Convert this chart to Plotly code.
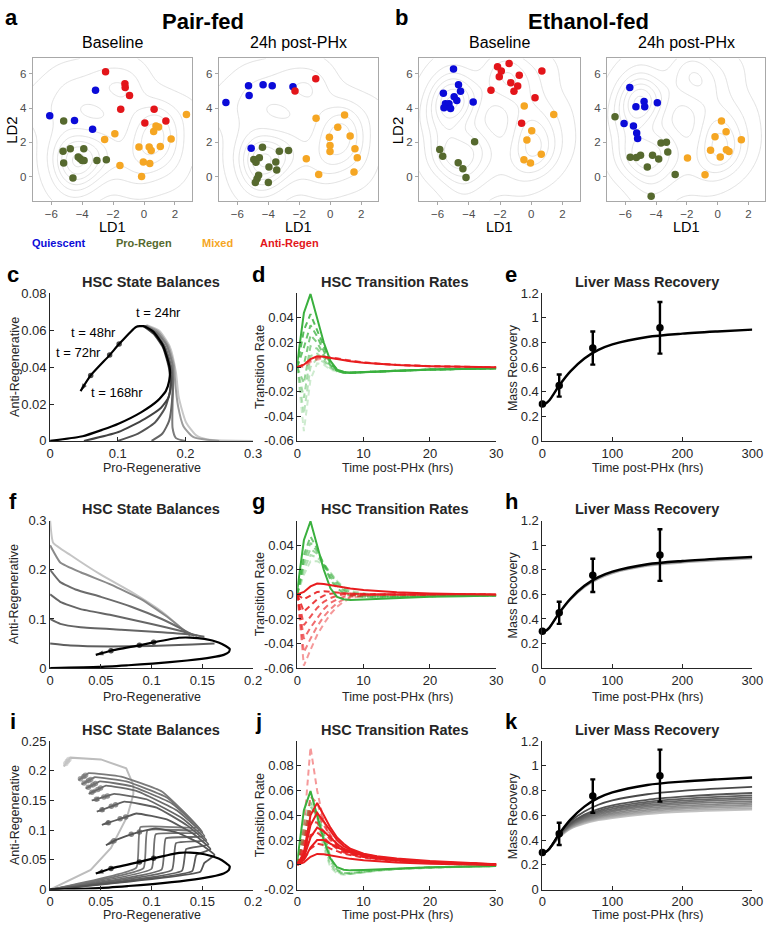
import numpy as np
import plotly.graph_objects as go

W, H = 778, 932

# ======================= a / b : LDA scatter (LD1, LD2) =======================
PF0_Q_X = [-6.1, -3.14, -4.5, -3.33]
PF0_Q_Y = [3.56, 5.04, 3.27, 2.77]
PF0_P_X = [-5.2, -5.24, -4.77, -3.9, -4.26, -4.13, -4.0, -3.88, -5.2, -3.05, -2.44, -4.6]
PF0_P_Y = [3.25, 1.48, 1.62, 1.63, 1.15, 1.04, 0.94, 0.94, 0.79, 0.94, 0.98, -0.08]
PF0_M_X = [2.74, -1.89, -2.55, 1.75, 0.62, 0.77, 0.94, -0.33, 0.33, 0.46, 1.05, -0.05, 0.37, -1.56, -0.16]
PF0_M_Y = [3.62, 2.5, 2.17, 2.19, 2.63, 2.96, 2.9, 1.73, 1.73, 1.52, 1.75, 0.85, 0.77, 0.65, 0.0]
PF0_A_X = [-2.49, -1.24, -1.22, -0.94, -1.51, 0.65, 0.05, 1.41]
PF0_A_Y = [6.13, 5.42, 5.21, 4.73, 3.94, 3.94, 3.13, 3.25]

PF24_Q_X = [-6.74, -5.28, -5.24, -4.34, -3.75, -2.41, -5.11]
PF24_Q_Y = [4.33, 5.31, 4.73, 5.37, 5.31, 5.25, 1.65]
PF24_P_X = [-4.38, -4.94, -4.58, -4.8, -3.52, -3.29, -2.7, -3.96, -3.46, -4.63, -4.73, -4.84, -4.0]
PF24_P_Y = [1.71, 1.0, 1.1, 0.83, 0.85, 1.48, 1.52, 0.56, 0.38, 0.08, -0.13, -0.35, -0.35]
PF24_M_X = [-0.92, 0.92, 0.48, -0.06, -0.02, -0.02, 1.28, 1.59, 1.74, 1.53, -1.55, -0.75]
PF24_M_Y = [3.4, 3.6, 2.88, 2.29, 1.81, 1.46, 2.37, 1.62, 1.1, 0.27, 1.04, 0.12]
PF24_A_X = [-0.94, -2.28]
PF24_A_Y = [5.71, 5.0]

EF0_Q_X = [-4.98, -4.66, -4.53, -5.63, -4.94, -4.77, -5.5, -5.27, -5.59, -5.17, -3.72]
EF0_Q_Y = [6.29, 5.37, 4.98, 4.87, 4.67, 4.44, 4.25, 4.25, 4.02, 3.98, 4.35]
EF0_P_X = [-5.86, -5.67, -3.63, -4.68, -4.38, -4.18]
EF0_P_Y = [1.58, 1.19, 2.04, 0.81, 0.46, -0.06]
EF0_M_X = [-0.45, 1.44, 0.03, -0.28, 0.64, -0.47, -0.05]
EF0_M_Y = [4.12, 3.62, 2.67, 2.13, 1.31, 0.98, 0.79]
EF0_A_X = [-2.16, -1.42, -1.92, -2.05, -0.77, -1.31, -0.87, -1.11, -2.58, 0.68, 0.24, -0.62]
EF0_A_Y = [6.42, 6.6, 6.17, 5.83, 5.92, 5.48, 5.29, 4.98, 5.04, 6.17, 4.6, 3.12]

EF24_Q_X = [-5.71, -4.78, -5.31, -4.74, -3.92, -6.08, -5.47, -5.26, -5.2]
EF24_Q_Y = [5.21, 4.38, 4.08, 4.08, 4.31, 3.1, 2.96, 2.54, 2.23]
EF24_P_X = [-6.67, -5.68, -5.28, -5.01, -4.23, -4.57, -3.83, -3.68, -3.33, -3.24, -2.76, -4.32]
EF24_P_Y = [3.5, 1.13, 1.12, 1.25, 1.25, 0.56, 1.02, 1.96, 2.0, 1.44, 0.12, -1.15]
EF24_M_X = [0.25, -0.17, 0.55, 1.54, -0.46, 0.57, 0.74, 0.17, -1.96, -0.82]
EF24_M_Y = [3.25, 2.33, 2.62, 2.15, 1.54, 1.56, 1.46, 1.15, 1.08, 0.1]
EF24_A_X = []
EF24_A_Y = []

STATE_NAMES = ["Quiescent", "Pro-Regen", "Mixed", "Anti-Regen"]
LD_TICKS_X = [-6, -4, -2, 0, 2]
LD_TICKS_Y = [0, 2, 4, 6]

# ======================= c / f / i : HSC state balances =======================
# baseline (black) trajectory; last 5 points: t=24,48,72,168 markers and end arrow
BAL_BLACK_X = [0, 0.048, 0.077, 0.101, 0.135, 0.159, 0.171, 0.176, 0.177, 0.173, 0.166, 0.152, 0.138,
               0.127, 0.102, 0.088, 0.060, 0.045]
BAL_BLACK_Y = [0, 0.0025, 0.006, 0.0093, 0.0156, 0.0218, 0.027, 0.0326, 0.0388, 0.045, 0.0523, 0.0594, 0.0622,
               0.0618, 0.0525, 0.0465, 0.0355, 0.027]

# panel c: initial pro-regenerative fractions 0.05 ... 0.3
C_G1_X = [0.05, 0.101, 0.14, 0.164, 0.175, 0.178, 0.176, 0.167, 0.153, 0.138]
C_G1_Y = [0, 0.0048, 0.012, 0.018, 0.0236, 0.031, 0.039, 0.0505, 0.058, 0.0622]
C_G2_X = [0.1, 0.13, 0.155, 0.17, 0.178, 0.179, 0.177, 0.168, 0.154, 0.139]
C_G2_Y = [0, 0.004, 0.01, 0.018, 0.028, 0.034, 0.04, 0.051, 0.0585, 0.0622]
C_G3_X = [0.15, 0.166, 0.176, 0.18, 0.181, 0.179, 0.17, 0.155, 0.14]
C_G3_Y = [0, 0.004, 0.011, 0.021, 0.032, 0.04, 0.051, 0.0588, 0.0624]
C_G4_X = [0.2, 0.186, 0.181, 0.181, 0.182, 0.181, 0.172, 0.157, 0.141]
C_G4_Y = [0, 0.0015, 0.007, 0.02, 0.033, 0.041, 0.052, 0.059, 0.0625]
C_G5_X = [0.25, 0.212, 0.197, 0.189, 0.185, 0.183, 0.174, 0.159, 0.142]
C_G5_Y = [0, 0.002, 0.008, 0.019, 0.031, 0.041, 0.052, 0.0595, 0.0626]
C_G6_X = [0.3, 0.232, 0.216, 0.201, 0.19, 0.186, 0.177, 0.161, 0.143]
C_G6_Y = [0, 0.0008, 0.003, 0.01, 0.024, 0.037, 0.051, 0.0598, 0.0627]

# panel f: initial anti-regenerative fractions 0.05 ... 0.3
F_G1_X = [0, 0.02, 0.06, 0.1, 0.14, 0.162]
F_G1_Y = [0.05, 0.046, 0.044, 0.045, 0.048, 0.05]
F_G2_X = [0, 0.01, 0.03, 0.07, 0.11, 0.14, 0.152]
F_G2_Y = [0.1, 0.09, 0.083, 0.078, 0.073, 0.068, 0.064]
F_G3_X = [0, 0.01, 0.03, 0.06, 0.1, 0.13, 0.145]
F_G3_Y = [0.15, 0.135, 0.12, 0.108, 0.09, 0.075, 0.066]
F_G4_X = [0, 0.01, 0.025, 0.05, 0.08, 0.11, 0.135, 0.142]
F_G4_Y = [0.2, 0.175, 0.16, 0.145, 0.125, 0.1, 0.074, 0.066]
F_G5_X = [0, 0.01, 0.03, 0.06, 0.09, 0.115, 0.133, 0.138]
F_G5_Y = [0.25, 0.215, 0.195, 0.17, 0.14, 0.105, 0.075, 0.066]
F_G6_X = [0, 0.003, 0.02, 0.05, 0.08, 0.11, 0.13, 0.135]
F_G6_Y = [0.3, 0.255, 0.23, 0.19, 0.155, 0.115, 0.08, 0.068]

# panel i: ethanol-perturbed trajectories; last 5 points are markers + arrow
I_LIGHT_X = [0, 0.04, 0.06, 0.076, 0.082, 0.082, 0.075, 0.05, 0.02, 0.0185, 0.017, 0.0155, 0.0135]
I_LIGHT_Y = [0, 0.033, 0.07, 0.123, 0.16, 0.176, 0.204, 0.219, 0.222, 0.219, 0.216, 0.212, 0.207]
I_S1_X = [0, 0.148, 0.152, 0.162, 0.145, 0.125, 0.104, 0.088, 0.08, 0.063, 0.055]
I_S1_Y = [0, 0.03, 0.045, 0.058, 0.08, 0.096, 0.103, 0.097, 0.093, 0.082, 0.0745]
I_S2_X = [0, 0.14, 0.144, 0.158, 0.14, 0.115, 0.085, 0.0745, 0.069, 0.0575, 0.051]
I_S2_Y = [0, 0.031, 0.058, 0.068, 0.095, 0.118, 0.128, 0.122, 0.119, 0.1126, 0.109]
I_S3_X = [0, 0.13, 0.134, 0.156, 0.135, 0.105, 0.073, 0.0645, 0.0603, 0.0512, 0.046]
I_S3_Y = [0, 0.032, 0.068, 0.076, 0.108, 0.138, 0.148, 0.1427, 0.14, 0.1343, 0.131]
I_S4_X = [0, 0.12, 0.124, 0.154, 0.13, 0.095, 0.063, 0.0565, 0.053, 0.0457, 0.041]
I_S4_Y = [0, 0.033, 0.078, 0.083, 0.12, 0.152, 0.161, 0.1576, 0.1558, 0.1519, 0.15]
I_S5_X = [0, 0.11, 0.114, 0.152, 0.125, 0.085, 0.055, 0.0497, 0.047, 0.0412, 0.038]
I_S5_Y = [0, 0.034, 0.086, 0.09, 0.133, 0.166, 0.175, 0.1707, 0.1684, 0.1637, 0.161]
I_S6_X = [0, 0.1, 0.104, 0.15, 0.12, 0.08, 0.049, 0.0447, 0.0424, 0.0377, 0.035]
I_S6_Y = [0, 0.035, 0.093, 0.096, 0.145, 0.174, 0.182, 0.1783, 0.1764, 0.1723, 0.17]
I_S7_X = [0, 0.092, 0.096, 0.148, 0.115, 0.075, 0.044, 0.04, 0.0379, 0.0335, 0.031]
I_S7_Y = [0, 0.036, 0.1, 0.1, 0.155, 0.182, 0.189, 0.1853, 0.1834, 0.1793, 0.177]
I_S8_X = [0, 0.085, 0.089, 0.145, 0.11, 0.07, 0.038, 0.0349, 0.0333, 0.0299, 0.028]
I_S8_Y = [0, 0.037, 0.105, 0.105, 0.165, 0.19, 0.196, 0.1923, 0.1904, 0.1863, 0.184]

# ======================= d / g / j : HSC transition rates =======================
T_HRS = [0, 1, 2, 3, 4, 5, 6, 7, 8, 10, 12, 15, 20, 25, 30]
GREEN_SOLID = [0.003, 0.044, 0.0595, 0.04, 0.02, 0.005, -0.002, -0.004, -0.0045, -0.0042, -0.0037, -0.003, -0.002, -0.0015, -0.001]
RED_SOLID = [0.0, 0.002, 0.0065, 0.0088, 0.0085, 0.0075, 0.0065, 0.0056, 0.0048, 0.0036, 0.0027, 0.0018, 0.0008, 0.0002, -0.0002]

D_GD1 = [0.0, 0.03, 0.043, 0.03, 0.016, 0.004, -0.002, -0.004, -0.0045, -0.0042, -0.0037, -0.003, -0.002, -0.0015, -0.001]
D_GD2 = [0.0, 0.016, 0.034, 0.025, 0.013, 0.003, -0.003, -0.0045, -0.0045, -0.0042, -0.0037, -0.003, -0.002, -0.0015, -0.001]
D_GD3 = [0.0, 0.002, 0.026, 0.02, 0.01, 0.002, -0.003, -0.0045, -0.0045, -0.0042, -0.0037, -0.003, -0.002, -0.0015, -0.001]
D_GD4 = [0.0, -0.013, 0.017, 0.015, 0.008, 0.001, -0.003, -0.0045, -0.0045, -0.0042, -0.0037, -0.003, -0.002, -0.0015, -0.001]
D_GD5 = [0.0, -0.025, 0.009, 0.011, 0.006, 0.0, -0.003, -0.0045, -0.0045, -0.0042, -0.0037, -0.003, -0.002, -0.0015, -0.001]
D_GD6 = [0.0, -0.038, 0.0, 0.007, 0.004, -0.001, -0.003, -0.0045, -0.0045, -0.0042, -0.0037, -0.003, -0.002, -0.0015, -0.001]
D_GD7 = [0.0, -0.052, -0.01, 0.003, 0.002, -0.002, -0.0035, -0.0045, -0.0045, -0.0042, -0.0037, -0.003, -0.002, -0.0015, -0.001]
D_RD1 = [0.0, 0.002, 0.006, 0.008, 0.0085, 0.008, 0.007, 0.006, 0.005, 0.0037, 0.0028, 0.0018, 0.0008, 0.0002, -0.0002]
D_RD2 = [0.0, 0.001, 0.005, 0.007, 0.008, 0.0078, 0.0072, 0.0062, 0.0052, 0.0038, 0.0028, 0.0018, 0.0008, 0.0002, -0.0002]
D_RD3 = [0.0, 0.0, 0.004, 0.006, 0.0072, 0.0074, 0.007, 0.0062, 0.0053, 0.0039, 0.0029, 0.0019, 0.0008, 0.0002, -0.0002]

G_GD1 = [0.0, 0.032, 0.047, 0.037, 0.024, 0.012, 0.005, 0.001, -0.001, -0.002, -0.002, -0.002, -0.0015, -0.001, -0.001]
G_GD2 = [0.0, 0.028, 0.042, 0.035, 0.025, 0.014, 0.007, 0.003, 0.0, -0.002, -0.002, -0.002, -0.0015, -0.001, -0.001]
G_GD3 = [0.0, 0.024, 0.037, 0.033, 0.025, 0.016, 0.009, 0.004, 0.001, -0.001, -0.002, -0.002, -0.0015, -0.001, -0.001]
G_GD4 = [0.0, 0.02, 0.032, 0.03, 0.025, 0.017, 0.01, 0.005, 0.002, 0.0, -0.001, -0.0015, -0.0015, -0.001, -0.001]
G_GD5 = [0.0, 0.016, 0.027, 0.027, 0.024, 0.018, 0.011, 0.006, 0.003, 0.001, -0.001, -0.0015, -0.0015, -0.001, -0.001]
G_RD1 = [0.0, -0.004, -0.001, 0.002, 0.0025, 0.002, 0.0015, 0.001, 0.0005, 0.0002, 0.0, 0.0, 0.0, 0.0, -0.0002]
G_RD2 = [0.0, -0.014, -0.009, -0.004, -0.001, 0.0005, 0.001, 0.0008, 0.0005, 0.0002, 0.0, 0.0, 0.0, 0.0, -0.0002]
G_RD3 = [0.0, -0.025, -0.018, -0.011, -0.006, -0.003, -0.001, 0.0, 0.0, 0.0, 0.0, 0.0, 0.0, 0.0, -0.0002]
G_RD4 = [0.0, -0.036, -0.027, -0.019, -0.012, -0.007, -0.004, -0.002, -0.001, 0.0, 0.0, 0.0, 0.0, 0.0, -0.0002]
G_RD5 = [0.0, -0.047, -0.036, -0.026, -0.018, -0.012, -0.007, -0.004, -0.002, -0.001, 0.0, 0.0, 0.0, 0.0, -0.0002]
G_RD6 = [0.0, -0.058, -0.045, -0.033, -0.024, -0.016, -0.01, -0.006, -0.003, -0.001, -0.0005, 0.0, 0.0, 0.0, -0.0002]

J_RS1 = [0.0, 0.01, 0.04, 0.05, 0.04, 0.03, 0.022, 0.017, 0.013, 0.009, 0.007, 0.005, 0.003, 0.0015, 0.0005]
J_RS2 = [0.0, 0.008, 0.032, 0.042, 0.035, 0.027, 0.02, 0.015, 0.012, 0.0085, 0.0065, 0.0045, 0.0025, 0.0012, 0.0004]
J_RS3 = [0.0, 0.006, 0.022, 0.03, 0.027, 0.022, 0.017, 0.013, 0.011, 0.008, 0.006, 0.0042, 0.0023, 0.0011, 0.0003]
J_RS4 = [0.0, 0.004, 0.014, 0.02, 0.02, 0.017, 0.014, 0.012, 0.01, 0.0075, 0.0057, 0.004, 0.0022, 0.001, 0.0003]
J_RD1 = [0.0, 0.03, 0.095, 0.06, 0.035, 0.022, 0.015, 0.011, 0.009, 0.0065, 0.005, 0.0035, 0.002, 0.001, 0.0003]
J_RD2 = [0.0, 0.02, 0.055, 0.05, 0.035, 0.024, 0.017, 0.013, 0.01, 0.007, 0.0055, 0.0038, 0.0021, 0.001, 0.0003]
J_RD3 = [0.0, 0.015, 0.045, 0.042, 0.032, 0.023, 0.016, 0.012, 0.0095, 0.0068, 0.0052, 0.0036, 0.002, 0.001, 0.0003]
J_RD4 = [0.0, 0.012, 0.035, 0.034, 0.027, 0.02, 0.015, 0.011, 0.009, 0.0065, 0.005, 0.0035, 0.002, 0.001, 0.0003]
J_RD5 = [0.0, 0.008, 0.024, 0.026, 0.022, 0.017, 0.013, 0.01, 0.0085, 0.0062, 0.0048, 0.0034, 0.0019, 0.001, 0.0003]
J_RD6 = [0.0, 0.004, 0.013, 0.017, 0.016, 0.013, 0.011, 0.009, 0.0078, 0.0058, 0.0045, 0.0032, 0.0018, 0.0009, 0.0003]
J_GD1 = [0.0, 0.035, 0.053, 0.035, 0.014, -0.002, -0.007, -0.008, -0.0075, -0.006, -0.0048, -0.0035, -0.0022, -0.0015, -0.001]
J_GD2 = [0.0, 0.03, 0.05, 0.038, 0.018, 0.0, -0.006, -0.0075, -0.0072, -0.0058, -0.0046, -0.0034, -0.0021, -0.0014, -0.001]
J_GD3 = [0.0, 0.025, 0.047, 0.04, 0.022, 0.003, -0.005, -0.007, -0.007, -0.0056, -0.0045, -0.0033, -0.0021, -0.0014, -0.001]
J_GD4 = [0.0, 0.02, 0.043, 0.042, 0.026, 0.006, -0.004, -0.0065, -0.0068, -0.0055, -0.0044, -0.0033, -0.002, -0.0014, -0.001]

# ======================= e / h / k : liver mass recovery =======================
M_T = [0, 5, 10, 24, 40, 60, 80, 100, 150, 200, 250, 300]
MASS_BLACK = [0.3, 0.305, 0.33, 0.45, 0.565, 0.67, 0.74, 0.785, 0.845, 0.872, 0.89, 0.905]
H_G1 = [0.3, 0.305, 0.33, 0.447, 0.56, 0.664, 0.733, 0.778, 0.838, 0.865, 0.884, 0.899]
H_G2 = [0.3, 0.305, 0.33, 0.444, 0.555, 0.658, 0.726, 0.771, 0.831, 0.858, 0.877, 0.892]
K_G1 = [0.3, 0.305, 0.33, 0.45, 0.55, 0.63, 0.685, 0.72, 0.77, 0.797, 0.815, 0.83]
K_G2 = [0.3, 0.305, 0.33, 0.445, 0.535, 0.605, 0.65, 0.68, 0.725, 0.75, 0.768, 0.78]
K_G3 = [0.3, 0.305, 0.33, 0.44, 0.53, 0.595, 0.635, 0.665, 0.708, 0.732, 0.748, 0.76]
K_G4 = [0.3, 0.305, 0.33, 0.44, 0.525, 0.585, 0.625, 0.652, 0.695, 0.718, 0.733, 0.745]
K_G5 = [0.3, 0.305, 0.33, 0.435, 0.52, 0.578, 0.615, 0.64, 0.682, 0.705, 0.72, 0.73]
K_G6 = [0.3, 0.305, 0.33, 0.435, 0.515, 0.57, 0.605, 0.63, 0.67, 0.692, 0.705, 0.715]
K_G7 = [0.3, 0.305, 0.33, 0.43, 0.51, 0.562, 0.595, 0.618, 0.657, 0.678, 0.69, 0.70]
K_G8 = [0.3, 0.305, 0.33, 0.43, 0.505, 0.555, 0.586, 0.607, 0.644, 0.665, 0.676, 0.685]
K_G9 = [0.3, 0.305, 0.33, 0.425, 0.5, 0.548, 0.577, 0.597, 0.632, 0.652, 0.663, 0.67]
K_G10 = [0.3, 0.305, 0.33, 0.425, 0.495, 0.54, 0.568, 0.587, 0.62, 0.639, 0.649, 0.655]
K_G11 = [0.3, 0.305, 0.33, 0.42, 0.49, 0.533, 0.56, 0.578, 0.61, 0.628, 0.638, 0.645]
OBS_T = [0, 24, 72, 168]
OBS_MASS = [0.3, 0.45, 0.755, 0.92]
OBS_ERR = [0.0, 0.09, 0.135, 0.21]

# ============================== styling ==============================
FONT = "Liberation Sans, Arial, Helvetica, sans-serif"
C_Q, C_P, C_M, C_A = "#0b0bd8", "#56692e", "#f5a623", "#e3151a"
GREEN = "rgb(58,176,62)"
RED = "rgb(232,28,30)"
AXC = "#262626"

fig = go.Figure()


def refs(i):
    return ("x" if i == 1 else f"x{i}", "y" if i == 1 else f"y{i}")


def add_line(i, x, y, color, width=2.0, dash=None, shape="linear", smoothing=None):
    xr, yr = refs(i)
    ln = dict(color=color, width=width, shape=shape)
    if dash:
        ln["dash"] = dash
    if smoothing is not None:
        ln["smoothing"] = smoothing
    fig.add_trace(go.Scatter(x=x, y=y, xaxis=xr, yaxis=yr, mode="lines", line=ln,
                             showlegend=False, hoverinfo="skip"))


def add_marks(i, x, y, color, size=5.5, arrow_last=False, arrow_size=8):
    xr, yr = refs(i)
    n = len(x)
    syms = ["circle"] * n
    sizes = [size] * n
    if arrow_last:
        syms[-1] = "arrow"
        sizes[-1] = arrow_size
    fig.add_trace(go.Scatter(x=x, y=y, xaxis=xr, yaxis=yr, mode="markers",
                             marker=dict(color=color, size=sizes, symbol=syms, angleref="previous",
                                         line=dict(width=0)),
                             showlegend=False, hoverinfo="skip", cliponaxis=False))


# ---------------- top row scatter panels with density contours ----------------
LD_XR = [-7.2, 3.1]
LD_YR = [-1.4, 6.9]
top_panels = [
    (1, [(PF0_Q_X, PF0_Q_Y), (PF0_P_X, PF0_P_Y), (PF0_M_X, PF0_M_Y), (PF0_A_X, PF0_A_Y)]),
    (2, [(PF24_Q_X, PF24_Q_Y), (PF24_P_X, PF24_P_Y), (PF24_M_X, PF24_M_Y), (PF24_A_X, PF24_A_Y)]),
    (3, [(EF0_Q_X, EF0_Q_Y), (EF0_P_X, EF0_P_Y), (EF0_M_X, EF0_M_Y), (EF0_A_X, EF0_A_Y)]),
    (4, [(EF24_Q_X, EF24_Q_Y), (EF24_P_X, EF24_P_Y), (EF24_M_X, EF24_M_Y), (EF24_A_X, EF24_A_Y)]),
]
gx = np.linspace(LD_XR[0], LD_XR[1], 140)
gy = np.linspace(LD_YR[0], LD_YR[1], 120)
GX, GY = np.meshgrid(gx, gy)


def kde(groups):
    xs = np.concatenate([np.array(g[0], float) for grp in groups for g in grp if len(g[0])])
    ys = np.concatenate([np.array(g[1], float) for grp in groups for g in grp if len(g[1])])
    h = 0.9
    Z = np.zeros_like(GX)
    for a, b in zip(xs, ys):
        Z += np.exp(-((GX - a) ** 2 + (GY - b) ** 2) / (2 * h * h))
    return Z / Z.max()


Z_pf = kde([top_panels[0][1], top_panels[1][1]])
Z_ef = kde([top_panels[2][1], top_panels[3][1]])
for idx, groups in top_panels:
    xr, yr = refs(idx)
    Z = Z_pf if idx <= 2 else Z_ef
    fig.add_trace(go.Contour(x=gx, y=gy, z=Z, xaxis=xr, yaxis=yr, showscale=False,
                             contours=dict(coloring="lines", start=0.05, end=0.95, size=0.15),
                             colorscale=[[0, "#d9d9d9"], [1, "#d9d9d9"]],
                             line=dict(width=0.8), hoverinfo="skip"))
    for (sx, sy), col in zip(groups, [C_Q, C_P, C_M, C_A]):
        if len(sx):
            fig.add_trace(go.Scatter(x=sx, y=sy, xaxis=xr, yaxis=yr, mode="markers",
                                     marker=dict(color=col, size=7.5, line=dict(width=0)),
                                     showlegend=False, hoverinfo="skip"))

# ---------------- c ----------------
c_lines = [(C_G6_X, C_G6_Y, "#c8c8c8", "#cfcfcf"), (C_G5_X, C_G5_Y, "#9c9c9c", "#a8a8a8"),
           (C_G4_X, C_G4_Y, "#7c7c7c", "#7c7c7c"), (C_G3_X, C_G3_Y, "#656565", "#707070"),
           (C_G2_X, C_G2_Y, "#545454", "#6a6a6a"), (C_G1_X, C_G1_Y, "#424242", "#666666")]
for x, y, lc, mc in c_lines:
    add_line(5, x, y, lc, 2.0, shape="spline", smoothing=0.6)
for x, y, lc, mc in c_lines:
    add_marks(5, [x[0]], [y[0]], mc, size=6.5)
add_line(5, BAL_BLACK_X, BAL_BLACK_Y, "black", 2.2, shape="spline", smoothing=0.5)
add_marks(5, BAL_BLACK_X[-5:], BAL_BLACK_Y[-5:], "black", size=5.5, arrow_last=True)
add_marks(5, [BAL_BLACK_X[0]], [BAL_BLACK_Y[0]], "black", size=6.5)

# ---------------- f ----------------
f_lines = [(F_G6_X, F_G6_Y, "#c4c4c4", "#cacaca"), (F_G5_X, F_G5_Y, "#8a8a8a", "#909090"),
           (F_G4_X, F_G4_Y, "#6c6c6c", "#7a7a7a"), (F_G3_X, F_G3_Y, "#666666", "#707070"),
           (F_G2_X, F_G2_Y, "#646464", "#6e6e6e"), (F_G1_X, F_G1_Y, "#5e5e5e", "#6a6a6a")]
for x, y, lc, mc in f_lines:
    add_line(8, x, y, lc, 2.0, shape="spline", smoothing=0.4)
for x, y, lc, mc in f_lines:
    add_marks(8, [x[0]], [y[0]], mc, size=6.5)
add_line(8, BAL_BLACK_X, BAL_BLACK_Y, "black", 2.2, shape="spline", smoothing=0.5)
add_marks(8, BAL_BLACK_X[-5:], BAL_BLACK_Y[-5:], "black", size=5.5, arrow_last=True)
add_marks(8, [BAL_BLACK_X[0]], [BAL_BLACK_Y[0]], "black", size=6.5)

# ---------------- i ----------------
add_line(11, I_LIGHT_X, I_LIGHT_Y, "#bdbdbd", 2.0)
add_marks(11, I_LIGHT_X[-5:], I_LIGHT_Y[-5:], "#c4c4c4", size=5.5, arrow_last=True)
i_lines = [(I_S8_X, I_S8_Y, "#7a7a7a"), (I_S7_X, I_S7_Y, "#757575"), (I_S6_X, I_S6_Y, "#707070"),
           (I_S5_X, I_S5_Y, "#6b6b6b"), (I_S4_X, I_S4_Y, "#666666"), (I_S3_X, I_S3_Y, "#606060"),
           (I_S2_X, I_S2_Y, "#5a5a5a"), (I_S1_X, I_S1_Y, "#545454")]
for x, y, c in i_lines:
    add_line(11, x, y, c, 1.8, shape="spline", smoothing=0.35)
for x, y, c in i_lines:
    add_marks(11, x[-5:], y[-5:], c, size=5.5, arrow_last=True)
add_line(11, BAL_BLACK_X, BAL_BLACK_Y, "black", 2.2, shape="spline", smoothing=0.5)
add_marks(11, BAL_BLACK_X[-5:], BAL_BLACK_Y[-5:], "black", size=5.5, arrow_last=True)
add_marks(11, [BAL_BLACK_X[0]], [BAL_BLACK_Y[0]], "black", size=6.5)

# ---------------- d / g / j ----------------
DASH = "6px,4px"


def green_a(a):
    return f"rgba(58,176,62,{a})"


def red_a(a):
    return f"rgba(232,28,30,{a})"


# d
for ys, a in zip([D_GD7, D_GD6, D_GD5, D_GD4, D_GD3, D_GD2, D_GD1], [0.25, 0.35, 0.45, 0.55, 0.65, 0.75, 0.85]):
    add_line(6, T_HRS, ys, green_a(a), 2.0, dash=DASH)
for ys, a in zip([D_RD3, D_RD2, D_RD1], [0.35, 0.45, 0.55]):
    add_line(6, T_HRS, ys, red_a(a), 2.0, dash=DASH)
add_line(6, T_HRS, GREEN_SOLID, GREEN, 2.0)
add_line(6, T_HRS, RED_SOLID, RED, 2.0)

# g
for ys, a in zip([G_GD5, G_GD4, G_GD3, G_GD2, G_GD1], [0.3, 0.4, 0.5, 0.6, 0.7]):
    add_line(9, T_HRS, ys, green_a(a), 2.0, dash=DASH)
for ys, a in zip([G_RD6, G_RD5, G_RD4, G_RD3, G_RD2, G_RD1], [0.45, 0.55, 0.65, 0.75, 0.85, 0.9]):
    add_line(9, T_HRS, ys, red_a(a), 2.0, dash=DASH)
add_line(9, T_HRS, GREEN_SOLID, GREEN, 2.0)
add_line(9, T_HRS, RED_SOLID, RED, 2.0)

# j
for ys, a in zip([J_GD1, J_GD2, J_GD3, J_GD4], [0.3, 0.4, 0.5, 0.6]):
    add_line(12, T_HRS, ys, green_a(a), 2.0, dash=DASH)
for ys, a in zip([J_RD1, J_RD2, J_RD3, J_RD4, J_RD5, J_RD6], [0.45, 0.6, 0.7, 0.8, 0.85, 0.9]):
    add_line(12, T_HRS, ys, red_a(a), 2.0, dash=DASH)
add_line(12, T_HRS, GREEN_SOLID, GREEN, 2.0)
for ys in [J_RS4, J_RS3, J_RS2, J_RS1]:
    add_line(12, T_HRS, ys, RED, 2.0)
add_line(12, T_HRS, RED_SOLID, RED, 2.0)


# ---------------- e / h / k ----------------
def mass_panel(i, grays):
    for ys, c in grays:
        add_line(i, M_T, ys, c, 1.8, shape="spline", smoothing=0.8)
    add_line(i, M_T, MASS_BLACK, "black", 2.4, shape="spline", smoothing=0.8)
    xr, yr = refs(i)
    fig.add_trace(go.Scatter(x=OBS_T, y=OBS_MASS, xaxis=xr, yaxis=yr, mode="markers",
                             marker=dict(color="black", size=7.5),
                             error_y=dict(type="data", array=OBS_ERR, color="black", thickness=2.4, width=2.5),
                             showlegend=False, hoverinfo="skip", cliponaxis=False))


mass_panel(7, [])
mass_panel(10, [(H_G2, "#b0b0b0"), (H_G1, "#808080")])
k_cols = ["#474747", "#555555", "#5f5f5f", "#686868", "#717171", "#7b7b7b", "#868686", "#929292",
          "#a0a0a0", "#b0b0b0", "#c2c2c2"]
mass_panel(13, list(zip([K_G11, K_G10, K_G9, K_G8, K_G7, K_G6, K_G5, K_G4, K_G3, K_G2, K_G1], k_cols[::-1])))

# ============================== axes layout ==============================
layout_axes = {}


def dom_x(a, b):
    return [a / W, b / W]


def dom_y(t, b):
    return [1 - b / H, 1 - t / H]


def key(i, ax):
    return f"{ax}axis" if i == 1 else f"{ax}axis{i}"


TOP_BOX = {1: (29.3, 191.7), 2: (219, 381.7), 3: (423, 587), 4: (614.7, 776.3)}
for i, (x0, x1) in TOP_BOX.items():
    common = dict(showgrid=False, zeroline=False, showline=True, mirror=True, linecolor="#a8a8a8",
                  linewidth=1, ticks="outside", ticklen=3, tickcolor="#a8a8a8",
                  tickfont=dict(family=FONT, size=11.5, color="#4d4d4d"), fixedrange=True)
    layout_axes[key(i, "x")] = dict(common, domain=dom_x(x0, x1), range=LD_XR, tickvals=LD_TICKS_X,
                                    anchor=refs(i)[1])
    layout_axes[key(i, "y")] = dict(common, domain=dom_y(52.3, 196.7), range=LD_YR, tickvals=LD_TICKS_Y,
                                    anchor=refs(i)[0])

COLS = [(47, 254), (299, 502), (549, 763)]
ROWS = [(291, 441), (522, 672), (746, 897)]


def fmt(v):
    return f"{v:g}"


def lower_axis(i, col, row, xr, xt, yr, yt):
    common = dict(showgrid=False, zeroline=False, showline=True, mirror=False, linecolor=AXC,
                  linewidth=1, ticks="inside", ticklen=4, tickcolor=AXC,
                  tickfont=dict(family=FONT, size=13, color=AXC), fixedrange=True)
    layout_axes[key(i, "x")] = dict(common, domain=dom_x(*COLS[col]), range=xr, tickvals=xt,
                                    ticktext=[fmt(v) for v in xt], anchor=refs(i)[1])
    layout_axes[key(i, "y")] = dict(common, domain=dom_y(*ROWS[row]), range=yr, tickvals=yt,
                                    ticktext=[fmt(v) for v in yt], anchor=refs(i)[0])


BAL_C_XT = [0, 0.1, 0.2, 0.3]
BAL_C_YT = [0, 0.02, 0.04, 0.06, 0.08]
BAL_F_XT = [0, 0.05, 0.1, 0.15, 0.2]
BAL_F_YT = [0, 0.1, 0.2, 0.3]
BAL_I_YT = [0, 0.05, 0.1, 0.15, 0.2, 0.25]
RATE_XT = [0, 10, 20, 30]
RATE_YT = [-0.06, -0.04, -0.02, 0, 0.02, 0.04]
RATE_J_YT = [-0.02, 0, 0.02, 0.04, 0.06, 0.08]
MASS_XT = [0, 100, 200, 300]
MASS_YT = [0, 0.2, 0.4, 0.6, 0.8, 1, 1.2]

lower_axis(5, 0, 0, [0, 0.3], BAL_C_XT, [0, 0.08], BAL_C_YT)
lower_axis(6, 1, 0, [0, 30], RATE_XT, [-0.06, 0.06], RATE_YT)
lower_axis(7, 2, 0, [0, 300], MASS_XT, [0, 1.2], MASS_YT)
lower_axis(8, 0, 1, [0, 0.2], BAL_F_XT, [0, 0.3], BAL_F_YT)
lower_axis(9, 1, 1, [0, 30], RATE_XT, [-0.06, 0.06], RATE_YT)
lower_axis(10, 2, 1, [0, 300], MASS_XT, [0, 1.2], MASS_YT)
lower_axis(11, 0, 2, [0, 0.2], BAL_F_XT, [0, 0.25], BAL_I_YT)
lower_axis(12, 1, 2, [0, 30], RATE_XT, [-0.02, 0.1], RATE_J_YT)
lower_axis(13, 2, 2, [0, 300], MASS_XT, [0, 1.2], MASS_YT)

# ============================== text ==============================
ann = []


def text(t, x, y, size, bold=False, color="black", angle=0, xanchor="center"):
    ann.append(dict(text=f"<b>{t}</b>" if bold else t, x=x / W, y=1 - y / H, xref="paper", yref="paper",
                    showarrow=False, xanchor=xanchor, yanchor="middle", textangle=angle,
                    font=dict(family=FONT, size=size, color=color)))


text("a", 8, 11, 22, True)
text("Pair-fed", 203, 15, 22, True)
text("b", 405, 11, 22, True)
text("Ethanol-fed", 596, 15, 22, True)
for (x0, x1), sub in zip(TOP_BOX.values(), ["Baseline", "24h post-PHx", "Baseline", "24h post-PHx"]):
    text(sub, (x0 + x1) / 2, 36, 16)
    text("LD1", (x0 + x1) / 2, 224, 14.5)
text("LD2", 8, 125, 15, angle=-90)
text("LD2", 402, 125, 15, angle=-90)
for name, col, xc in zip(STATE_NAMES, [C_Q, C_P, C_M, C_A], [56, 143, 218, 291]):
    text(name, xc, 240, 11, True, col)

letters = [["c", "d", "e"], ["f", "g", "h"], ["i", "j", "k"]]
letter_y = [272, 503, 726]
title_y = [279, 510, 735]
xtitle_y = [469, 701, 923]
letter_x = [9, 260, 517]
for r in range(3):
    for c in range(3):
        text(letters[r][c], letter_x[c], letter_y[r], 22, True)
    text("HSC State Balances", 150, title_y[r], 14.5, True, AXC)
    text("HSC Transition Rates", 398, title_y[r], 14.5, True, AXC)
    text("Liver Mass Recovery", 656, title_y[r], 14.5, True, AXC)
    text("Pro-Regenerative", 150.5, xtitle_y[r], 12.5, False, AXC)
    text("Time post-PHx (hrs)", 401, xtitle_y[r], 12.5, False, AXC)
    text("Time post-PHx (hrs)", 656, xtitle_y[r], 12.5, False, AXC)
    ymid = (ROWS[r][0] + ROWS[r][1]) / 2
    text("Anti-Regenerative", 11, ymid, 12.5, False, AXC, angle=-90)
    text("Transition Rate", 261, ymid, 12.5, False, AXC, angle=-90)
    text("Mass Recovery", 519, ymid, 12.5, False, AXC, angle=-90)

text("t = 24hr", 158, 311, 13)
text("t = 48hr", 91, 331, 13)
text("t = 72hr", 76, 351, 13)
text("t = 168hr", 115, 392, 13)

fig.update_layout(width=W, height=H, margin=dict(l=0, r=0, t=0, b=0), autosize=False,
                  paper_bgcolor="white", plot_bgcolor="white", showlegend=False,
                  font=dict(family=FONT), annotations=ann, **layout_axes)

fig.write_html("out.html", config={"displayModeBar": False},
               post_script="document.body.style.margin='0px';document.body.style.overflow='hidden';")
